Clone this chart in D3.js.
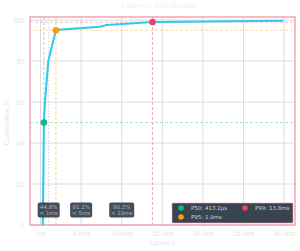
<!DOCTYPE html>
<html>
<head>
<meta charset="utf-8">
<script src="https://cdn.jsdelivr.net/npm/d3@7"></script>
<style>
  body { margin: 0; background: #fff; }
  svg { display: block; font-family: "DejaVu Sans", sans-serif; }
</style>
</head>
<body>
<div id="chart"></div>
<script>
// Cumulative latency curve (ms, %)
const latencyMs = [0.27, 0.413, 0.55, 0.95, 1.9, 7.33, 8.15, 13.8, 29.9];
const cumulativePct = [0, 50, 60, 80, 95.2, 96.7, 97.6, 99, 99.7];

const percentiles = [
  { name: "P50", label: "P50: 413.2µs", ms: 0.4132, pct: 50, color: "#10b981" },
  { name: "P95", label: "P95: 1.9ms", ms: 1.9, pct: 95, color: "#f59e0b" },
  { name: "P99", label: "P99: 13.8ms", ms: 13.8, pct: 99, color: "#f43f5e" }
];

const thresholdMs = [1, 5, 10];
const thresholdPct = ["44.8%", "81.1%", "90.2%"];
const thresholdText = ["< 1ms", "< 5ms", "< 10ms"];

const xTicks = [0, 5, 10, 15, 20, 25, 30];
const xTickLabels = ["0ns", "5.0ms", "10.0ms", "15.0ms", "20.0ms", "25.0ms", "30.0ms"];
const yTicks = [0, 20, 40, 60, 80, 100];

const W = 300, H = 251;
const margin = { top: 17, right: 5, bottom: 26, left: 30 };
const width = W - margin.left - margin.right;
const height = H - margin.top - margin.bottom;

const svg = d3.select("#chart").append("svg")
  .attr("width", W).attr("height", H);

const g = svg.append("g")
  .attr("transform", `translate(${margin.left},${margin.top})`);

const x = d3.scaleLinear().domain([-1.3, 31.35]).range([0, width]);
const y = d3.scaleLinear().domain([0, 101.5]).range([height, 0]);

// grid
g.append("g").selectAll("line").data(yTicks).enter().append("line")
  .attr("x1", 0).attr("x2", width)
  .attr("y1", d => y(d)).attr("y2", d => y(d))
  .attr("stroke", "#dcdce0").attr("stroke-width", 1);
g.append("g").selectAll("line").data(xTicks).enter().append("line")
  .attr("y1", 0).attr("y2", height)
  .attr("x1", d => x(d)).attr("x2", d => x(d))
  .attr("stroke", "#dcdce0").attr("stroke-width", 1);

// axes tick labels
const xAxis = d3.axisBottom(x).tickValues(xTicks).tickSize(0).tickPadding(6)
  .tickFormat((d, i) => xTickLabels[i]);
const xa = g.append("g").attr("transform", `translate(0,${height})`).call(xAxis);
const yAxis = d3.axisLeft(y).tickValues(yTicks).tickSize(0).tickPadding(6);
const ya = g.append("g").call(yAxis);
[xa, ya].forEach(a => {
  a.select(".domain").remove();
  a.selectAll("text").attr("fill", "#e4e4e8").attr("font-size", 6.5);
});

// threshold dotted line at 1ms
g.append("line")
  .attr("x1", x(1)).attr("x2", x(1)).attr("y1", 0).attr("y2", height)
  .attr("stroke", "#d4d4dc").attr("stroke-dasharray", "1.5,1.5");

// percentile reference lines
percentiles.forEach(p => {
  g.append("line")
    .attr("x1", 0).attr("x2", width).attr("y1", y(p.pct)).attr("y2", y(p.pct))
    .attr("stroke", p.color).attr("stroke-opacity", 0.35)
    .attr("stroke-dasharray", "3,2");
  g.append("line")
    .attr("x1", x(p.ms)).attr("x2", x(p.ms)).attr("y1", 0).attr("y2", height)
    .attr("stroke", p.color).attr("stroke-opacity", 0.45)
    .attr("stroke-dasharray", "3,2");
});

// plot border
g.append("rect")
  .attr("width", width).attr("height", height)
  .attr("fill", "none").attr("stroke", "#f5a3b3").attr("stroke-width", 1.5);

// curve
const pts = latencyMs.map((d, i) => [d, cumulativePct[i]]);
g.append("path").datum(pts)
  .attr("fill", "none").attr("stroke", "#2ec8f0").attr("stroke-width", 2)
  .attr("d", d3.line().x(d => x(d[0])).y(d => y(d[1])));

// markers
g.selectAll(".marker").data(percentiles).enter().append("circle")
  .attr("cx", d => x(d.ms)).attr("cy", d => y(d.pct)).attr("r", 3.3)
  .attr("fill", d => d.color);

// threshold annotation boxes
thresholdMs.forEach((t, i) => {
  const bw = i === 2 ? 25 : 22, bh = 15;
  const cx = x(t), top = y(11);
  g.append("rect")
    .attr("x", cx - bw / 2).attr("y", top).attr("width", bw).attr("height", bh)
    .attr("rx", 2).attr("fill", "#3a4450").attr("opacity", 0.95);
  g.append("text").attr("x", cx).attr("y", top + 6.3)
    .attr("text-anchor", "middle").attr("font-size", 5.5).attr("fill", "#aeb4bc")
    .text(thresholdPct[i]);
  g.append("text").attr("x", cx).attr("y", top + 12.6)
    .attr("text-anchor", "middle").attr("font-size", 5.5).attr("fill", "#aeb4bc")
    .text(thresholdText[i]);
});

// legend
const lg = svg.append("g").attr("transform", "translate(172,203)");
lg.append("rect").attr("width", 121).attr("height", 20).attr("rx", 1)
  .attr("fill", "#3a4450").attr("stroke", "#f5a3b3").attr("stroke-width", 0.6);
const legendPos = [[9, 5], [9, 14], [73, 5]];
percentiles.forEach((p, i) => {
  const [lx, ly] = legendPos[i];
  lg.append("circle").attr("cx", lx).attr("cy", ly).attr("r", 2.8).attr("fill", p.color);
  lg.append("text").attr("x", lx + 10).attr("y", ly + 2)
    .attr("font-size", 5.5).attr("fill", "#cfd3d8").text(p.label);
});

// titles
svg.append("text").attr("x", 160).attr("y", 7.5).attr("text-anchor", "middle")
  .attr("font-size", 7.5).attr("fill", "#f0f0f2").text("Latency Distribution");
svg.append("text").attr("x", margin.left + width / 2).attr("y", 245)
  .attr("text-anchor", "middle").attr("font-size", 6.5).attr("fill", "#e4e4e8")
  .text("Latency");
svg.append("text")
  .attr("transform", `translate(9,${margin.top + y(50)}) rotate(-90)`)
  .attr("text-anchor", "middle").attr("font-size", 6.5).attr("fill", "#e4e4e8")
  .text("Cumulative %");
</script>
</body>
</html>
